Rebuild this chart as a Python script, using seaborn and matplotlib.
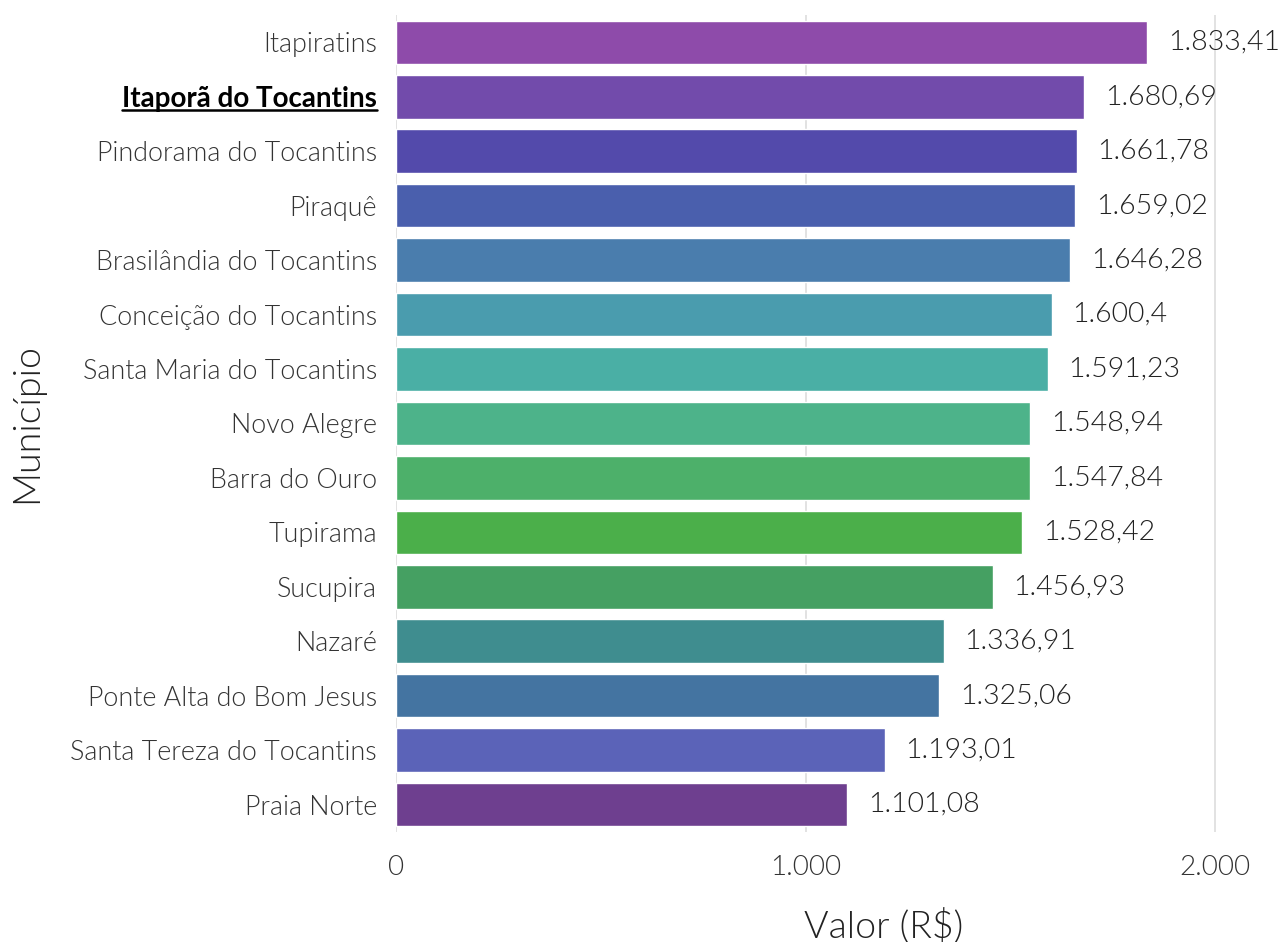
import seaborn as sns
import matplotlib.pyplot as plt
from matplotlib.lines import Line2D

municipios = ['Itapiratins', 'Itaporã do Tocantins', 'Pindorama do Tocantins', 'Piraquê',
              'Brasilândia do Tocantins', 'Conceição do Tocantins', 'Santa Maria do Tocantins',
              'Novo Alegre', 'Barra do Ouro', 'Tupirama', 'Sucupira', 'Nazaré',
              'Ponte Alta do Bom Jesus', 'Santa Tereza do Tocantins', 'Praia Norte']
valores = [1833.41, 1680.69, 1661.78, 1659.02, 1646.28, 1600.4, 1591.23, 1548.94,
           1547.84, 1528.42, 1456.93, 1336.91, 1325.06, 1193.01, 1101.08]
cores = ['#8E4BAA', '#724BAB', '#534AAB', '#4A5FAD', '#4A7DAD', '#4A9CAE', '#4AAFA5',
         '#4DB38A', '#4DB06A', '#4BAF4A', '#45A062', '#3F8D8F', '#4474A1', '#5B63B8', '#6E3F8F']
destaque = 'Itaporã do Tocantins'


def fmt_br(v):
    s = '{:,.2f}'.format(v).rstrip('0').rstrip('.')
    return s.replace(',', 'X').replace('.', ',').replace('X', '.')


sns.set_style('white')
plt.rcParams['font.family'] = ['Lato', 'DejaVu Sans']

fig, ax = plt.subplots(figsize=(12.79, 9.42), dpi=100)
fig.subplots_adjust(left=0.310, right=0.998, top=0.984, bottom=0.117)

sns.barplot(x=valores, y=municipios, hue=municipios, palette=cores, legend=False,
            orient='h', width=0.8, saturation=1, ax=ax, zorder=2)

for c in ax.containers:
    ax.bar_label(c, labels=[fmt_br(v) for v in c.datavalues], padding=15,
                 fontsize=20.5, fontweight=300, color='#222222')

ax.set_xlim(0, 2150)
ax.set_xticks([0, 1000, 2000])
ax.set_xticklabels([fmt_br(t) for t in [0, 1000, 2000]])
ax.grid(axis='x', color='#dddddd', linewidth=1.2, zorder=0)
ax.set_axisbelow(True)
for s in ax.spines.values():
    s.set_visible(False)

ax.tick_params(axis='x', labelsize=20, pad=17, length=0, colors='#333333')
ax.tick_params(axis='y', labelsize=19.4, pad=14, length=0, colors='#333333')
for lab in ax.get_yticklabels():
    lab.set_fontweight(300)
    if lab.get_text() == destaque:
        lab.set_fontweight('bold')
        lab.set_color('#000000')
        lab.set_fontsize(20)
for lab in ax.get_xticklabels():
    lab.set_fontweight(300)

ax.set_xlabel('Valor (R$)', fontsize=27, fontweight=300, color='#222222')
ax.set_ylabel('Município', fontsize=27, fontweight=300, color='#222222')
ax.xaxis.set_label_coords(0.554, -0.093)
ax.yaxis.set_label_coords(-0.400, 0.5)

# sublinhado no município em destaque
fig.canvas.draw()
for lab in ax.get_yticklabels():
    if lab.get_text() == destaque:
        bb = lab.get_window_extent().transformed(fig.transFigure.inverted())
        y = bb.y0 + 0.002
        fig.add_artist(Line2D([bb.x0, bb.x1], [y, y], transform=fig.transFigure,
                              color='#000000', linewidth=1.8))

plt.savefig('out.png', dpi=100)
